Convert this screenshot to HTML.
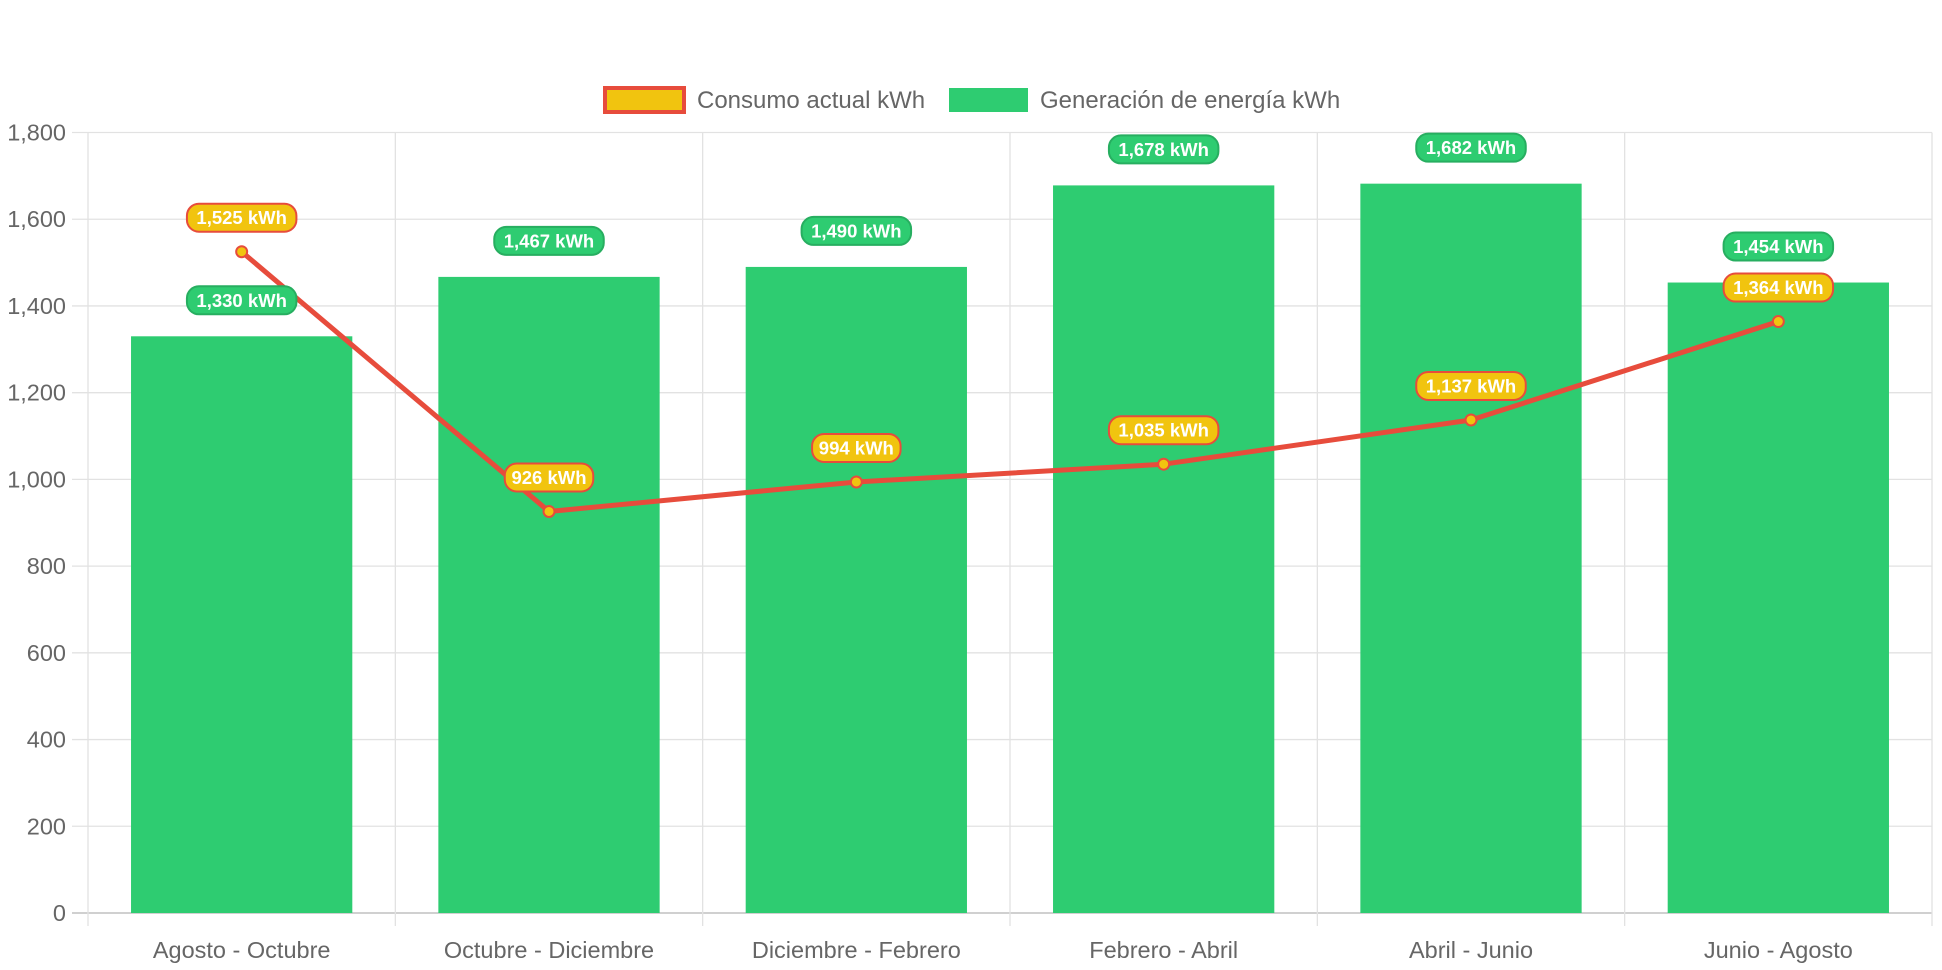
<!DOCTYPE html>
<html><head><meta charset="utf-8"><style>
html,body{margin:0;padding:0;background:#fff;}
svg{display:block;font-family:"Liberation Sans",Arial,sans-serif;}
</style></head><body>
<svg id="chart" width="1942" height="970"></svg>
<script>
const categories=["Agosto - Octubre","Octubre - Diciembre","Diciembre - Febrero","Febrero - Abril","Abril - Junio","Junio - Agosto"];
const generation=[1330,1467,1490,1678,1682,1454];
const consumption=[1525,926,994,1035,1137,1364];
const yTicks=[0,200,400,600,800,1000,1200,1400,1600,1800];
const NS="http://www.w3.org/2000/svg";
const svg=document.getElementById('chart');
const L=88,R=1932,T=132.5,B=913,yMax=1800;
const cw=(R-L)/categories.length;
function x(i){return L+cw*(i+0.5);}
function y(v){return B-(v/yMax)*(B-T);}
function el(t,a,p){const e=document.createElementNS(NS,t);for(const k in a)e.setAttribute(k,a[k]);(p||svg).appendChild(e);return e;}
const fmt=v=>v.toLocaleString('en-US');
yTicks.forEach(v=>{
  const g=el('line',{x1:72,x2:R,y1:y(v),y2:y(v),stroke:v===0?'#d0d0d0':'#e2e2e2','stroke-width':v===0?2:1.3});
  
  
  const t=el('text',{x:66,y:y(v)+8,'text-anchor':'end','font-size':23.5,fill:'#666'});
  t.textContent=fmt(v);
  
  
});
for(let i=0;i<=categories.length;i++){
  const gx=L+cw*i;
  const g=el('line',{x1:gx,x2:gx,y1:T,y2:926,stroke:'#e2e2e2','stroke-width':1.3});
  
  
}
categories.forEach((c,i)=>{
  const t=el('text',{x:x(i),y:958,'text-anchor':'middle','font-size':23.5,fill:'#666'});
  t.textContent=c;
  
  
});
const bw=cw*0.72;
generation.forEach((v,i)=>{
  const b=el('rect',{x:x(i)-bw/2,y:y(v),width:bw,height:B-y(v),fill:'#2ecc71'});
  
  
});
const pts=consumption.map((v,i)=>x(i)+','+y(v)).join(' ');
const pl=el('polyline',{points:pts,fill:'none',stroke:'#e74c3c','stroke-width':5,'stroke-linejoin':'round'});


consumption.forEach((v,i)=>{
  const c=el('circle',{cx:x(i),cy:y(v),r:5.5,fill:'#f1c40f',stroke:'#e74c3c','stroke-width':2});
  
  
});
function label(cx,cy,txt,fill,stroke,name){
  const w=txt.length*10.5+15,h=28;
  const r=el('rect',{x:cx-w/2,y:cy-h/2,width:w,height:h,rx:12,fill:fill,stroke:stroke,'stroke-width':2});
  
  
  const t=el('text',{x:cx,y:cy+6.5,'text-anchor':'middle','font-size':18.5,'font-weight':'bold',fill:'#fff'});
  t.textContent=txt;
  
  
}
generation.forEach((v,i)=>label(x(i),y(v)-36,fmt(v)+' kWh','#2ecc71','#27ae60','generation-value-label'));
consumption.forEach((v,i)=>label(x(i),y(v)-34,fmt(v)+' kWh','#f1c40f','#e74c3c','consumption-value-label'));
const lg=el('g',{});


const l1=el('rect',{x:605,y:88,width:79,height:24,fill:'#f1c40f',stroke:'#e74c3c','stroke-width':4},lg);


const t1=el('text',{x:697,y:108,'font-size':24,fill:'#666'},lg);
t1.textContent='Consumo actual kWh';


const l2=el('rect',{x:949,y:88,width:79,height:24,fill:'#2ecc71'},lg);


const t2=el('text',{x:1040,y:108,'font-size':24,fill:'#666'},lg);
t2.textContent='Generación de energía kWh';


</script>
</body></html>
